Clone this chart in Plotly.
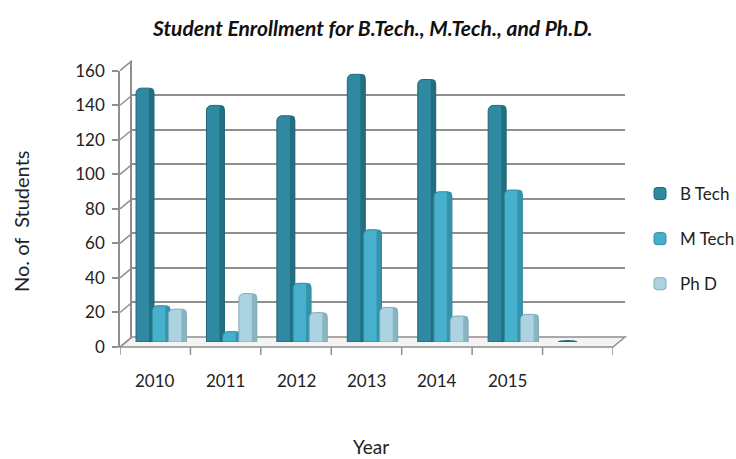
import plotly.graph_objects as go

# ---- data -------------------------------------------------------------
years = ["2010", "2011", "2012", "2013", "2014", "2015", ""]
b_tech = [147, 137, 131, 155, 152, 137, 0]
m_tech = [21, 6, 34, 65, 87, 88, None]
ph_d = [19, 28, 17, 20, 15, 16, None]
y_ticks = [0, 20, 40, 60, 80, 100, 120, 140, 160]

series = [
    ("B Tech", b_tech, "#2f8aa1", "#1f6678"),
    ("M Tech", m_tech, "#47b1cd", "#2f8aa3"),
    ("Ph D", ph_d, "#acd3e0", "#7fa9b8"),
]

# ---- pixel geometry of the pseudo-3D box -------------------------------
W, H = 736, 459
FRONT_L, FRONT_R = 120, 613      # floor front edge
FRONT_B, FRONT_T = 347, 70.7     # value 0 / value 160 on the front axis
DX, DY = 12, -10                 # depth offset of the back wall
GRID = "#8f8f8f"
FONT = "Lato"
TXT = "#222222"


def fx(p):
    return p / W


def fy(p):
    return 1 - p / H


def dom_x(shift):
    return [fx(FRONT_L + shift), fx(FRONT_R + shift)]


def dom_y(shift):
    return [fy(FRONT_B + shift), fy(FRONT_T + shift)]


n = len(years)
xr = [-0.5, n - 0.5]
yr = [0, 160]
cats = list(range(n))

fig = go.Figure()

# invisible anchor trace for the back-wall axes
fig.add_trace(go.Scatter(x=[0], y=[0], xaxis="x2", yaxis="y2", mode="markers",
                         marker=dict(opacity=0), showlegend=False, hoverinfo="skip"))

# bars stand on the middle depth plane
BAR_W = 0.255
offsets = [-0.23, 0.0, 0.23]
for (name, vals, col, dark), off in zip(series, offsets):
    fig.add_trace(go.Bar(
        x=cats, y=vals, name=name, legendgroup=name,
        xaxis="x3", yaxis="y3",
        offset=off - BAR_W / 2, width=BAR_W,
        marker=dict(color=col, line=dict(color=dark, width=1), cornerradius=5),
    ))
    # darker right-hand side of each cylinder
    fig.add_trace(go.Bar(
        x=cats, y=vals, legendgroup=name, showlegend=False, hoverinfo="skip",
        xaxis="x3", yaxis="y3",
        offset=off + BAR_W / 2 - 0.07, width=0.07,
        marker=dict(color=dark, line=dict(width=0), cornerradius=3, opacity=0.75),
    ))

shapes = []

# floor of the box
shapes.append(dict(
    type="path", xref="paper", yref="paper",
    path=(f"M {fx(FRONT_L)} {fy(FRONT_B)} L {fx(FRONT_R)} {fy(FRONT_B)} "
          f"L {fx(FRONT_R + DX)} {fy(FRONT_B + DY)} L {fx(FRONT_L + DX)} {fy(FRONT_B + DY)} Z"),
    fillcolor="#f3f3f3", line=dict(color=GRID, width=1.5), layer="below"))

# small diagonal connectors from the front value axis to the back wall
for t in y_ticks:
    ypix = FRONT_B - (FRONT_B - FRONT_T) * t / yr[1]
    shapes.append(dict(type="line", xref="paper", yref="paper",
                       x0=fx(FRONT_L), y0=fy(ypix), x1=fx(FRONT_L + DX), y1=fy(ypix + DY),
                       line=dict(color=GRID, width=1.5), layer="below"))

# category boundary ticks under the floor front edge
for k in range(n + 1):
    shapes.append(dict(type="line", xref="x", yref="paper",
                       x0=k - 0.5, x1=k - 0.5, y0=fy(FRONT_B), y1=fy(FRONT_B + 8),
                       line=dict(color=GRID, width=1.5)))

# a zero-height cylinder shows only its base disc
for (name, vals, col, dark), off in zip(series, offsets):
    for i, v in enumerate(vals):
        if v == 0:
            shapes.append(dict(type="circle", xref="x3", yref="y3",
                               x0=i + off - 0.14, x1=i + off + 0.14, y0=-1.2, y1=1.2,
                               fillcolor=dark, line=dict(width=0)))

annotations = [
    dict(text="<b><i>Student Enrollment for B.Tech., M.Tech., and Ph.D.</i></b>",
         x=fx(372), y=fy(27), xref="paper", yref="paper", showarrow=False,
         xanchor="center", yanchor="middle",
         font=dict(family=FONT, size=21, color="#111")),
    dict(text="No. of  Students", textangle=-90, x=fx(21), y=fy(222),
         xref="paper", yref="paper", showarrow=False,
         xanchor="center", yanchor="middle",
         font=dict(family=FONT, size=20, color=TXT)),
    dict(text="Year", x=fx(371), y=fy(446), xref="paper", yref="paper",
         xanchor="center", yanchor="middle",
         showarrow=False, font=dict(family=FONT, size=19, color=TXT)),
]
for i, lab in enumerate(years):
    if lab:
        annotations.append(dict(text=lab, x=i, xref="x", y=fy(380), yref="paper",
                                xanchor="center", yanchor="middle",
                                showarrow=False,
                                font=dict(family=FONT, size=17, color=TXT)))

axis_off = dict(visible=False, fixedrange=True)

fig.update_layout(
    template="none",
    width=W, height=H,
    margin=dict(l=0, r=0, t=0, b=0, pad=0, autoexpand=False),
    paper_bgcolor="white", plot_bgcolor="rgba(0,0,0,0)",
    barmode="overlay",
    showlegend=True,
    legend=dict(x=fx(640), y=fy(176), xanchor="left", yanchor="top",
                font=dict(family=FONT, size=17, color=TXT),
                traceorder="grouped", tracegroupgap=20, itemwidth=30,
                bgcolor="rgba(0,0,0,0)", borderwidth=0),
    # front axes: value labels and floor edge
    xaxis=dict(domain=dom_x(0), range=xr, anchor="y", showgrid=False,
               zeroline=False, showline=False, showticklabels=False, ticks="",
               fixedrange=True),
    yaxis=dict(domain=dom_y(0), range=yr, anchor="x", tickvals=y_ticks,
               showgrid=False, zeroline=False, showline=True, linecolor=GRID,
               linewidth=1.5, ticks="outside", ticklen=6, tickcolor=GRID,
               tickwidth=1.5, ticklabelstandoff=4,
               tickfont=dict(family=FONT, size=17, color=TXT), fixedrange=True),
    # back wall with gridlines
    xaxis2=dict(domain=dom_x(DX), range=xr, anchor="y2", **axis_off),
    yaxis2=dict(domain=dom_y(DY), range=yr, anchor="x2", tickvals=y_ticks,
                showgrid=True, gridcolor=GRID, gridwidth=2, zeroline=False,
                showline=True, linecolor=GRID, linewidth=1.5,
                showticklabels=False, ticks="", fixedrange=True),
    # middle depth plane for the cylinders
    xaxis3=dict(domain=dom_x(DX / 2), range=xr, anchor="y3", **axis_off),
    yaxis3=dict(domain=dom_y(DY / 2), range=yr, anchor="x3", **axis_off),
    shapes=shapes,
    annotations=annotations,
)

fig.write_html("out.html")
